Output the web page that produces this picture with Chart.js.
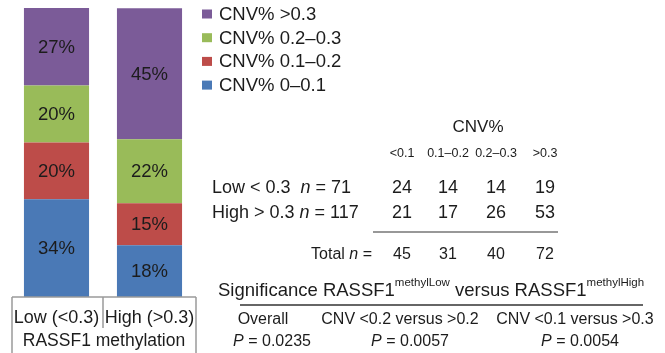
<!DOCTYPE html>
<html>
<head>
<meta charset="utf-8">
<script src="https://cdn.jsdelivr.net/npm/chart.js@4/dist/chart.umd.min.js"></script>
<style>
  html, body { margin: 0; padding: 0; background: #fff; }
  #wrap { position: relative; width: 665px; height: 353px; }
</style>
</head>
<body>
<div id="wrap"><canvas id="chart" width="665" height="353"></canvas></div>
<script>
// categories and series (percent of samples per methylation group)
const categories = ["Low (<0.3)", "High (>0.3)"];
const axisTitle = "RASSF1 methylation";
const seriesLabels = ["CNV% 0\u20130.1", "CNV% 0.1\u20130.2", "CNV% 0.2\u20130.3", "CNV% >0.3"];
const seriesColors = ["#4a79b6", "#bd4c49", "#99bb59", "#7b5b98"];
const pct01 = [33.8, 17.9];
const pct12 = [19.7, 14.5];
const pct23 = [19.7, 22.2];
const pct3 = [26.8, 45.3];
const pctLabels = [["34%", "18%"], ["20%", "15%"], ["20%", "22%"], ["27%", "45%"]];

// table on the right
const colHeads = ["<0.1", "0.1\u20130.2", "0.2\u20130.3", ">0.3"];
const lowCounts = [24, 14, 14, 19];
const highCounts = [21, 17, 26, 53];
const totals = [45, 31, 40, 72];
const testNames = ["Overall", "CNV <0.2 versus >0.2", "CNV <0.1 versus >0.3"];
const pValues = ["0.0235", "0.0057", "0.0054"];

const FONT = "'Liberation Sans', Arial, sans-serif";
const INK = "#1c1c1c";

const seriesData = [pct01, pct12, pct23, pct3];

// percent labels inside each bar segment
const segmentLabels = {
  id: "segmentLabels",
  afterDatasetsDraw(chart) {
    const ctx = chart.ctx;
    ctx.save();
    ctx.font = "18.5px " + FONT;
    ctx.fillStyle = INK;
    ctx.textAlign = "center";
    ctx.textBaseline = "middle";
    chart.data.datasets.forEach((ds, i) => {
      chart.getDatasetMeta(i).data.forEach((bar, j) => {
        ctx.fillText(pctLabels[i][j], bar.x, (bar.y + bar.base) / 2 + 1);
      });
    });
    ctx.restore();
  }
};

// excel style category box under the bars
const categoryBox = {
  id: "categoryBox",
  afterDraw(chart) {
    const ctx = chart.ctx;
    const x = chart.scales.x;
    const area = chart.chartArea;
    const left = area.left + 2, right = area.right;
    const mid = (x.getPixelForTick(0) + x.getPixelForTick(1)) / 2;
    const y0 = area.bottom;
    ctx.save();
    ctx.strokeStyle = "#9a9a9a";
    ctx.lineWidth = 1.5;
    ctx.beginPath();
    ctx.moveTo(left, y0); ctx.lineTo(right, y0);
    ctx.moveTo(left, y0); ctx.lineTo(left, chart.height);
    ctx.moveTo(right, y0); ctx.lineTo(right, chart.height);
    ctx.moveTo(mid, y0); ctx.lineTo(mid, y0 + 31);
    ctx.stroke();
    ctx.fillStyle = INK;
    ctx.font = "18px " + FONT;
    ctx.textAlign = "center";
    ctx.textBaseline = "middle";
    categories.forEach((c, i) => ctx.fillText(c, x.getPixelForTick(i), y0 + 21));
    ctx.font = "17.5px " + FONT;
    ctx.fillText(axisTitle, (left + right) / 2, y0 + 44);
    ctx.restore();
  }
};

// legend, top entry first
const sideLegend = {
  id: "sideLegend",
  afterDraw(chart) {
    const ctx = chart.ctx;
    ctx.save();
    ctx.font = "18.5px " + FONT;
    ctx.textBaseline = "middle";
    ctx.textAlign = "left";
    const items = chart.data.datasets.slice().reverse();
    items.forEach((ds, k) => {
      const cy = 14 + k * 23.7;
      ctx.fillStyle = ds.backgroundColor;
      ctx.fillRect(202, cy - 4.5, 10, 9);
      ctx.fillStyle = INK;
      ctx.fillText(ds.label, 219, cy + 1);
    });
    ctx.restore();
  }
};

function drawSup(ctx, parts, x, y) {
  // parts: [text, isSup]
  let cx = x;
  parts.forEach(([t, sup]) => {
    ctx.font = (sup ? "11.5px " : "18.5px ") + FONT;
    ctx.fillText(t, cx, sup ? y - 8 : y);
    cx += ctx.measureText(t).width;
  });
  return cx;
}

// contingency table and significance block
const sideTable = {
  id: "sideTable",
  afterDraw(chart) {
    const ctx = chart.ctx;
    const cols = [402, 448, 496, 545];
    ctx.save();
    ctx.fillStyle = INK;
    ctx.textBaseline = "middle";

    ctx.textAlign = "center";
    ctx.font = "17px " + FONT;
    ctx.fillText("CNV%", 478, 127);
    ctx.font = "12.5px " + FONT;
    colHeads.forEach((h, i) => ctx.fillText(h, cols[i], 154));

    // row labels with italic n
    ctx.textAlign = "left";
    const rowLabel = (pre, post, y) => {
      ctx.font = "18px " + FONT;
      ctx.fillText(pre, 212, y);
      let cx = 212 + ctx.measureText(pre).width;
      ctx.font = "italic 18px " + FONT;
      ctx.fillText("n", cx, y);
      cx += ctx.measureText("n").width;
      ctx.font = "18px " + FONT;
      ctx.fillText(post, cx, y);
    };
    rowLabel("Low < 0.3  ", " = 71", 188);
    rowLabel("High > 0.3 ", " = 117", 213);

    ctx.textAlign = "center";
    ctx.font = "18px " + FONT;
    lowCounts.forEach((v, i) => ctx.fillText(String(v), cols[i], 188));
    highCounts.forEach((v, i) => ctx.fillText(String(v), cols[i], 213));

    ctx.strokeStyle = "#333";
    ctx.lineWidth = 1.2;
    ctx.beginPath();
    ctx.moveTo(373, 232); ctx.lineTo(558, 232);
    ctx.stroke();

    ctx.font = "16px " + FONT;
    ctx.textAlign = "right";
    ctx.fillText(" =", 372, 255);
    let w = ctx.measureText(" =").width;
    ctx.font = "italic 16px " + FONT;
    ctx.fillText("n", 372 - w, 255);
    w += ctx.measureText("n").width;
    ctx.font = "16px " + FONT;
    ctx.fillText("Total ", 372 - w, 255);
    ctx.textAlign = "center";
    totals.forEach((v, i) => ctx.fillText(String(v), cols[i], 255));

    // significance header
    ctx.textAlign = "left";
    drawSup(ctx, [["Significance RASSF1", false], ["methylLow", true], [" versus RASSF1", false], ["methylHigh", true]], 218, 291);
    ctx.strokeStyle = "#333";
    ctx.lineWidth = 1.5;
    ctx.beginPath();
    ctx.moveTo(240, 305); ctx.lineTo(643, 305);
    ctx.stroke();

    ctx.textAlign = "center";
    ctx.font = "16px " + FONT;
    const testX = [263, 400, 575];
    const pX = [272, 410, 580];
    testNames.forEach((t, i) => ctx.fillText(t, testX[i], 320));
    pValues.forEach((p, i) => {
      ctx.font = "16px " + FONT;
      const rest = " = " + p;
      const wr = ctx.measureText(rest).width;
      ctx.font = "italic 16px " + FONT;
      const wp = ctx.measureText("P").width;
      const x0 = pX[i] - (wr + wp) / 2;
      ctx.textAlign = "left";
      ctx.fillText("P", x0, 342);
      ctx.font = "16px " + FONT;
      ctx.fillText(rest, x0 + wp, 342);
      ctx.textAlign = "center";
    });
    ctx.restore();
  }
};

new Chart(document.getElementById("chart"), {
  type: "bar",
  data: {
    labels: categories,
    datasets: seriesLabels.map((label, i) => ({
      label: label,
      data: seriesData[i],
      backgroundColor: seriesColors[i],
      borderWidth: 0,
      categoryPercentage: 0.7,
      barPercentage: 1.0
    }))
  },
  options: {
    responsive: false,
    animation: false,
    devicePixelRatio: 1,
    layout: { padding: { left: 10, right: 469, top: 8, bottom: 56 } },
    plugins: {
      legend: { display: false },
      tooltip: { enabled: false }
    },
    scales: {
      x: { stacked: true, display: false },
      y: { stacked: true, display: false, min: 0, max: 100 }
    }
  },
  plugins: [segmentLabels, categoryBox, sideLegend, sideTable]
});
</script>
</body>
</html>
